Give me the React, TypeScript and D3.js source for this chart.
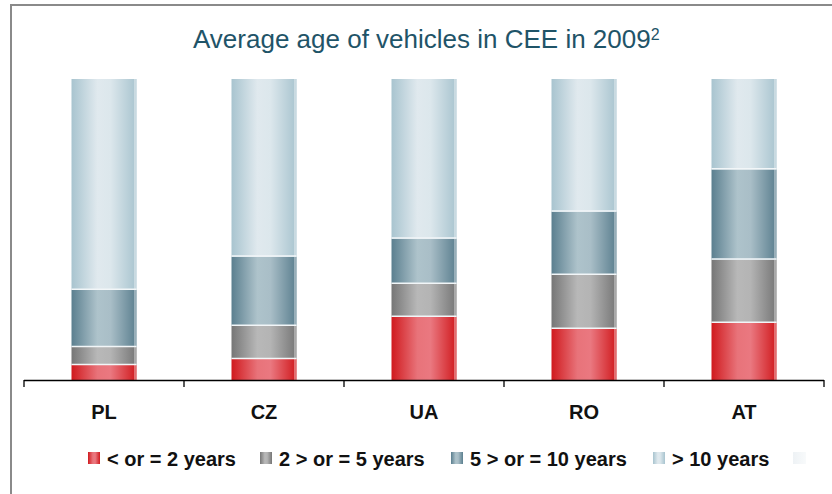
import React from "react";
import * as d3 from "d3";

const categories = ["PL", "CZ", "UA", "RO", "AT"];
const seriesNames = ["< or = 2 years", "2 > or = 5 years", "5 > or = 10 years", "> 10 years"];
const under2 = [5, 7, 21, 17, 19];
const from2to5 = [6, 11, 11, 18, 21];
const from5to10 = [19, 23, 15, 21, 30];
const over10 = [70, 59, 53, 44, 30];

const W = 832;
const H = 494;

const gradStops = [
  ["#d01a1e", "#e8737a", "#ea7880", "#d01a1e"],
  ["#767676", "#b8b8b8", "#b4b4b4", "#767676"],
  ["#5b7f8f", "#aec3cb", "#a9bec7", "#5b7f8f"],
  ["#a8c4cf", "#e0e9ee", "#dce7ec", "#a8c4cf"],
];

export default function App() {
  const x = d3.scaleBand().domain(categories).range([24, 824]).paddingInner(0).paddingOuter(0);
  const y = d3.scaleLinear().domain([0, 100]).range([380, 79]);
  const bw = 65;

  const rows = categories.map((c, i) => ({
    cat: c,
    v0: under2[i],
    v1: from2to5[i],
    v2: from5to10[i],
    v3: over10[i],
  }));
  const stack = d3.stack<any>().keys(["v0", "v1", "v2", "v3"])(rows);

  const ticks = [...categories.map((c) => x(c)!), 824];

  const legendX = [88, 260, 451, 653];

  return (
    <svg
      width={W}
      height={H}
      style={{ position: "absolute", left: 0, top: 0, background: "#fff" }}
      fontFamily="'Liberation Sans', Arial, sans-serif"
    >
      <defs>
        {gradStops.map((s, i) => (
          <linearGradient key={i} id={`g${i}`} x1="0" x2="1" y1="0" y2="0">
            <stop offset="0" stopColor={s[0]} />
            <stop offset="0.4" stopColor={s[1]} />
            <stop offset="0.6" stopColor={s[2]} />
            <stop offset="1" stopColor={s[3]} />
          </linearGradient>
        ))}
        <linearGradient id="gEmpty" x1="0" x2="1">
          <stop offset="0" stopColor="#eef2f5" />
          <stop offset="1" stopColor="#f8fafb" />
        </linearGradient>
      </defs>
      <rect x={0} y={0} width={W} height={H} fill="#fff" />
      <path d={`M11,${H + 5} L11,5 L${W + 5},5`} fill="none" stroke="#8a8a8a" strokeWidth={2} />

      <text x={193} y={48} fontSize={26} fill="#1f5468">
        Average age of vehicles in CEE in 2009
        <tspan fontSize={16} dy={-8}>2</tspan>
      </text>

      {stack.map((layer, li) =>
        layer.map((d, i) => {
          const cx = x(categories[i])! + x.bandwidth() / 2;
          const x0 = cx - bw / 2;
          const top = y(d[1]);
          const bot = y(d[0]);
          return (
            <g key={`${li}-${i}`}>
              <rect x={x0} y={top} width={bw} height={bot - top} fill={`url(#g${li})`} />
              <line x1={x0 + bw - 1.5} x2={x0 + bw - 1.5} y1={top} y2={bot} stroke="#ffffff" strokeOpacity={0.6} strokeWidth={1.2} />
              {li > 0 && (
                <line x1={x0} x2={x0 + bw} y1={bot - 0.5} y2={bot - 0.5} stroke="#f2f6f8" strokeWidth={1.5} />
              )}
            </g>
          );
        })
      )}

      <line x1={24} x2={824} y1={380.5} y2={380.5} stroke="#000" strokeWidth={1.3} />
      {ticks.map((t, i) => (
        <line key={i} x1={t} x2={t} y1={380} y2={387} stroke="#000" strokeWidth={1.3} />
      ))}

      {categories.map((c) => (
        <text
          key={c}
          x={x(c)! + x.bandwidth() / 2}
          y={419}
          textAnchor="middle"
          fontSize={20}
          fontWeight="bold"
          fill="#111"
        >
          {c}
        </text>
      ))}

      {seriesNames.map((s, i) => (
        <g key={s}>
          <rect x={legendX[i]} y={452} width={12} height={12} fill={`url(#g${i})`} />
          <text x={legendX[i] + 19} y={466} fontSize={20} fontWeight="bold" fill="#111">
            {s}
          </text>
        </g>
      ))}
      <rect x={793} y={452} width={13} height={12} fill="url(#gEmpty)" />
    </svg>
  );
}
